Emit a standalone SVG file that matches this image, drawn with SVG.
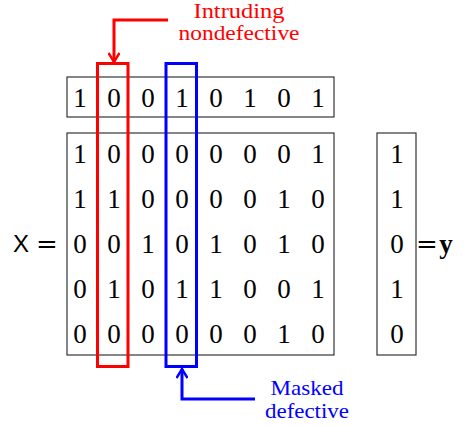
<svg xmlns="http://www.w3.org/2000/svg" width="464" height="426" viewBox="0 0 464 426">
<style>
text{font-family:"Liberation Serif","Times New Roman",serif}
.d{font-size:27px;fill:#000;text-anchor:middle}
.box{fill:none;stroke:#222;stroke-width:1.1}
.lab{font-size:21px;text-anchor:middle}
</style>
<defs>
<marker id="hr" viewBox="0 0 12 12" refX="10" refY="6" markerWidth="12" markerHeight="12" markerUnits="userSpaceOnUse" orient="auto">
<path d="M1,0.5 L10,6 L1,11.5" fill="none" stroke="#ff0000" stroke-width="2.4"/>
</marker>
<marker id="hb" viewBox="0 0 12 12" refX="10" refY="6" markerWidth="12" markerHeight="12" markerUnits="userSpaceOnUse" orient="auto">
<path d="M1,0.5 L10,6 L1,11.5" fill="none" stroke="#0000ff" stroke-width="2.4"/>
</marker>
</defs>
<rect width="464" height="426" fill="#fff"/>

<g id="toprow">
<rect class="box" x="67" y="77" width="267" height="40"/>
<text class="d" y="107"><tspan x="80">1</tspan><tspan x="114">0</tspan><tspan x="148">0</tspan><tspan x="182">1</tspan><tspan x="216">0</tspan><tspan x="250">1</tspan><tspan x="284">0</tspan><tspan x="318">1</tspan></text>
</g>

<g id="matrixX">
<text x="13" y="252" style="font-family:'Liberation Sans',Arial,sans-serif;font-size:24px">X</text>
<text x="47" y="253" style="font-family:'DejaVu Serif',serif;font-size:26px;text-anchor:middle">=</text>
<rect class="box" x="67" y="133" width="267" height="222"/>
<text class="d" y="163"><tspan x="80">1</tspan><tspan x="114">0</tspan><tspan x="148">0</tspan><tspan x="182">0</tspan><tspan x="216">0</tspan><tspan x="250">0</tspan><tspan x="284">0</tspan><tspan x="318">1</tspan></text>
<text class="d" y="208"><tspan x="80">1</tspan><tspan x="114">1</tspan><tspan x="148">0</tspan><tspan x="182">0</tspan><tspan x="216">0</tspan><tspan x="250">0</tspan><tspan x="284">1</tspan><tspan x="318">0</tspan></text>
<text class="d" y="253"><tspan x="80">0</tspan><tspan x="114">0</tspan><tspan x="148">1</tspan><tspan x="182">0</tspan><tspan x="216">1</tspan><tspan x="250">0</tspan><tspan x="284">1</tspan><tspan x="318">0</tspan></text>
<text class="d" y="298"><tspan x="80">0</tspan><tspan x="114">1</tspan><tspan x="148">0</tspan><tspan x="182">1</tspan><tspan x="216">1</tspan><tspan x="250">0</tspan><tspan x="284">0</tspan><tspan x="318">1</tspan></text>
<text class="d" y="343"><tspan x="80">0</tspan><tspan x="114">0</tspan><tspan x="148">0</tspan><tspan x="182">0</tspan><tspan x="216">0</tspan><tspan x="250">0</tspan><tspan x="284">1</tspan><tspan x="318">0</tspan></text>
</g>

<g id="vectorY">
<rect class="box" x="377" y="133" width="39" height="222"/>
<text class="d" x="397" y="163">1</text>
<text class="d" x="397" y="208">1</text>
<text class="d" x="397" y="253">0</text>
<text class="d" x="397" y="298">1</text>
<text class="d" x="397" y="343">0</text>
<text x="427" y="253" style="font-family:'DejaVu Serif',serif;font-size:26px;text-anchor:middle">=</text>
<text x="446" y="253" style="font-family:'Liberation Serif',serif;font-size:27px;font-weight:bold;text-anchor:middle">y</text>
</g>

<g id="redcol">
<rect x="97.5" y="63.5" width="30.5" height="303" fill="none" stroke="#ff0000" stroke-width="3"/>
</g>
<g id="bluecol">
<rect x="166" y="63.5" width="30.5" height="303" fill="none" stroke="#0000ff" stroke-width="3"/>
</g>

<g id="labelRed">
<text class="lab" fill="#ff0000" x="239" y="18" style="font-size:20px" textLength="91" lengthAdjust="spacingAndGlyphs">Intruding</text>
<text class="lab" fill="#ff0000" x="239" y="40" textLength="121" lengthAdjust="spacingAndGlyphs">nondefective</text>
</g>
<g id="labelBlue">
<text class="lab" fill="#0000ff" x="307" y="395" textLength="73" lengthAdjust="spacingAndGlyphs">Masked</text>
<text class="lab" fill="#0000ff" x="307" y="418" textLength="84" lengthAdjust="spacingAndGlyphs">defective</text>
</g>

<g id="connectors">
<path d="M168,20 H114 V62" fill="none" stroke="#ff0000" stroke-width="3" marker-end="url(#hr)"/>
<path d="M255,399 H182 V369" fill="none" stroke="#0000ff" stroke-width="3" marker-end="url(#hb)"/>
</g>
</svg>
